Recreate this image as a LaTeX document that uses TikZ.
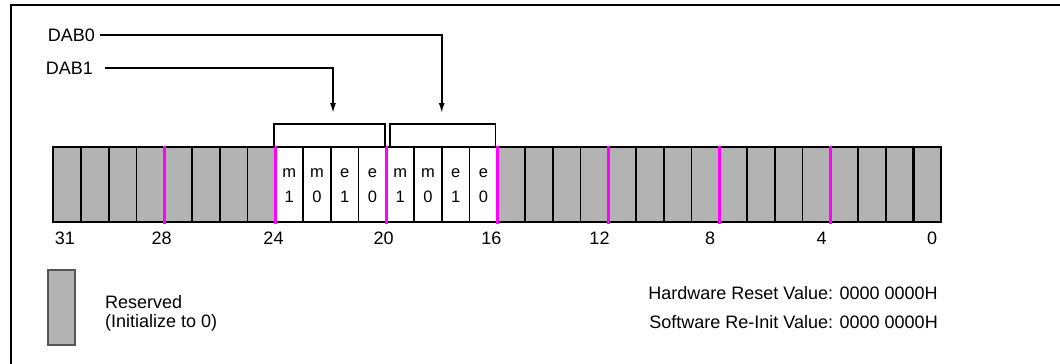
\documentclass[tikz,border=0pt]{standalone}
\usepackage{fontspec}
\setmainfont{Liberation Sans}
\usetikzlibrary{arrows.meta}
\definecolor{resgray}{RGB}{179,179,179}
\definecolor{fieldmark}{RGB}{255,0,255}
\definecolor{legedge}{RGB}{85,85,85}

\begin{document}
\begin{tikzpicture}[x=1pt,y=-1pt,
  txt/.style={font=\fontsize{18}{21}\selectfont, inner sep=0pt},
  bittxt/.style={font=\fontsize{16.5}{19}\selectfont, inner sep=0pt},
  cellline/.style={draw=black, line width=1.8pt},
  marker/.style={draw=fieldmark, line width=3.2pt},
  bracketline/.style={draw=black, line width=1.8pt},
  pointer/.style={draw=black, line width=1.6pt, -{Latex[length=10pt,width=6pt]}},
]
\useasboundingbox (0,0) rectangle (1060,364);

% outer frame (open on the right and bottom)
\draw[line width=2pt] (11,364) -- (11,5) -- (1060,5);

% register cells, bit 31 on the left
\def\regL{53.3}
\def\cw{27.75}
\def\regT{147}
\def\regB{222}
\foreach \b in {0,...,31}{
  \pgfmathsetmacro{\xl}{\regL+(31-\b)*\cw}
  \pgfmathsetmacro{\xr}{\xl+\cw}
  \ifnum\b>15 \ifnum\b<24
    \def\fillc{white}
  \else
    \def\fillc{resgray}
  \fi\else
    \def\fillc{resgray}
  \fi
  \filldraw[cellline, fill=\fillc] (\xl,\regT) rectangle (\xr,\regB);
}
% heavier divider before bit 0
\draw[line width=3pt] (913.6,\regT) -- (913.6,\regB);

% nibble markers
\foreach \k in {4,8,...,28}{
  \pgfmathsetmacro{\xm}{\regL+\k*\cw}
  \draw[marker] (\xm,146) -- (\xm,223.5);
}

% field bits
\foreach \b/\t/\n in {23/m/1,22/m/0,21/e/1,20/e/0,19/m/1,18/m/0,17/e/1,16/e/0}{
  \pgfmathsetmacro{\xc}{\regL+(31-\b)*\cw+\cw/2}
  \node[bittxt] (f\b t) at (\xc,173) {\t};
  \node[bittxt] (f\b n) at (\xc,197) {\n};
}

% bit numbers
\foreach \x/\l in {65/31,161.7/28,273.5/24,383.7/20,491.3/16,599.5/12,710/8,821.7/4,932/0}{
  \node[txt] (bit\l) at (\x,238) {\l};
}

% brackets over the two fields
\draw[bracketline] (274,\regT) -- (274,124) -- (385,124) -- (385,\regT);
\draw[bracketline] (390,\regT) -- (390,124) -- (495.5,124) -- (495.5,\regT);
\coordinate (dab1tip) at (333,113);
\coordinate (dab0tip) at (441.7,113);

% field labels and pointers
\node[txt, anchor=east] (dab0) at (95,35) {DAB0};
\node[txt, anchor=east] (dab1) at (93,68) {DAB1};
\draw[pointer] (dab0.east) ++(5,0) -| (dab0tip);
\draw[pointer] (dab1.east) ++(12,0) -| (dab1tip);

% legend
\filldraw[fill=resgray, draw=legedge, line width=2pt] (48,270) rectangle (75,345);
\node[txt, anchor=west] (res1) at (105,302) {Reserved};
\node[txt, anchor=west] (res2) at (105,323) {(Initialize to 0)};

% reset values
\node[txt, anchor=east] (hwreset) at (938,293) {Hardware Reset Value: 0000 0000H};
\node[txt, anchor=east] (swreset) at (938,322) {Software Re-Init Value: 0000 0000H};
\end{tikzpicture}
\end{document}
